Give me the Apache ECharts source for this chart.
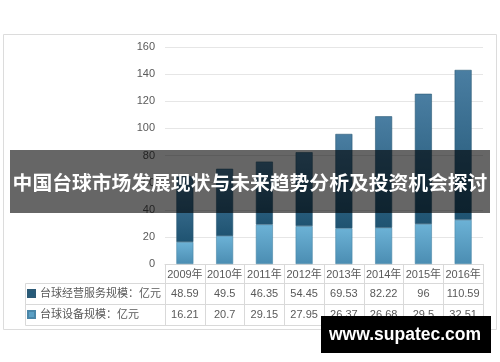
<!DOCTYPE html>
<html>
<head>
<meta charset="utf-8">
<script src="https://cdn.jsdelivr.net/npm/echarts@6/dist/echarts.min.js"></script>
<style>
html,body{margin:0;padding:0;background:#fff;}
#chart{width:500px;height:362px;}
</style>
</head>
<body>
<div id="chart"></div>
<script>
var years = ['2009年','2010年','2011年','2012年','2013年','2014年','2015年','2016年'];
var serviceName = '台球经营服务规模：亿元';
var equipName = '台球设备规模：亿元';
var serviceValues = [48.59, 49.5, 46.35, 54.45, 69.53, 82.22, 96, 110.59];
var equipValues = [16.21, 20.7, 29.15, 27.95, 26.37, 26.68, 29.5, 32.51];
var yTicks = [0, 20, 40, 60, 80, 100, 120, 140, 160];
var bannerTitle = '中国台球市场发展现状与未来趋势分析及投资机会探讨';
var watermark = 'www.supatec.com';

var txt = '#595959';
var lineC = '#d9d9d9';
var font = '"Liberation Sans", "Noto Sans CJK SC", sans-serif';

var chart = echarts.init(document.getElementById('chart'), null, {renderer: 'canvas'});

function grad(top, bottom) {
  return new echarts.graphic.LinearGradient(0, 0, 0, 1, [
    {offset: 0, color: top}, {offset: 1, color: bottom}
  ]);
}

var option = {
  backgroundColor: '#fff',
  animation: false,
  grid: {left: 165, right: 17, top: 47, bottom: 98, containLabel: false},
  legend: {
    orient: 'vertical', left: 27, top: 287, padding: 0,
    itemWidth: 7, itemHeight: 7, itemGap: 8, icon: 'rect',
    data: [
      {name: serviceName, itemStyle: {color: '#255b7a'}},
      {name: equipName, itemStyle: {color: '#5a9fc4'}}
    ],
    textStyle: {fontSize: 11, color: txt, lineHeight: 13, fontFamily: font}
  },
  xAxis: [
    {
      type: 'category', data: years, position: 'bottom',
      axisLine: {show: true, lineStyle: {color: lineC}},
      axisTick: {show: true, length: 61, lineStyle: {color: lineC}},
      axisLabel: {color: txt, fontSize: 11, margin: 5, fontFamily: font, interval: 0}
    },
    {
      type: 'category', data: serviceValues.map(String), position: 'bottom', offset: 19,
      axisLine: {show: true, lineStyle: {color: lineC}},
      axisTick: {show: false},
      axisLabel: {color: txt, fontSize: 11, margin: 5, fontFamily: font, interval: 0}
    },
    {
      type: 'category', data: equipValues.map(String), position: 'bottom', offset: 40,
      axisLine: {show: true, lineStyle: {color: lineC}},
      axisTick: {show: false},
      axisLabel: {color: txt, fontSize: 11, margin: 5, fontFamily: font, interval: 0}
    },
    {
      type: 'category', data: years, position: 'bottom', offset: 61,
      axisLine: {show: true, lineStyle: {color: lineC}},
      axisTick: {show: false},
      axisLabel: {show: false}
    }
  ],
  yAxis: {
    type: 'value', min: yTicks[0], max: yTicks[yTicks.length - 1], interval: 20,
    axisLine: {show: false}, axisTick: {show: false},
    axisLabel: {color: txt, fontSize: 11, margin: 10, fontFamily: font},
    splitLine: {lineStyle: {color: '#e6e6e6', width: 1}}
  },
  series: [
    {
      name: equipName, type: 'bar', stack: 'total', barWidth: 17,
      data: equipValues,
      itemStyle: {color: grad('#6cb2d6', '#4b8db2'), borderColor: '#4a86a8', borderWidth: 0.6}
    },
    {
      name: serviceName, type: 'bar', stack: 'total', barWidth: 17,
      data: serviceValues,
      itemStyle: {color: grad('#4a7ea2', '#1f5371'), borderColor: '#2c5a76', borderWidth: 0.6}
    }
  ],
  graphic: [
    {type: 'rect', shape: {x: 3.5, y: 34.5, width: 493, height: 295}, style: {fill: 'none', stroke: '#dcdcdc', lineWidth: 1}, z: -10, silent: true},
    {type: 'rect', shape: {x: 25.5, y: 283.5, width: 140, height: 21}, style: {fill: 'none', stroke: lineC, lineWidth: 1}, z: 1, silent: true},
    {type: 'rect', shape: {x: 25.5, y: 304.5, width: 140, height: 21}, style: {fill: 'none', stroke: lineC, lineWidth: 1}, z: 1, silent: true},
    {type: 'rect', shape: {x: 10, y: 150, width: 480, height: 63}, style: {fill: 'rgba(0,0,0,0.6)'}, z: 100, silent: true},
    {type: 'text', x: 250, y: 182, z: 101, silent: true,
      style: {text: bannerTitle, fill: '#fff', font: 'bold 19.8px "Noto Sans CJK SC", sans-serif', textAlign: 'center', textVerticalAlign: 'middle'}},
    {type: 'rect', shape: {x: 321, y: 316, width: 170, height: 37}, style: {fill: '#000'}, z: 100, silent: true},
    {type: 'text', x: 405, y: 335, z: 101, silent: true,
      style: {text: watermark, fill: '#fff', font: 'bold 17.5px "Liberation Sans", Arial, sans-serif', textAlign: 'center', textVerticalAlign: 'middle'}}
  ]
};
chart.setOption(option);
</script>
</body>
</html>
